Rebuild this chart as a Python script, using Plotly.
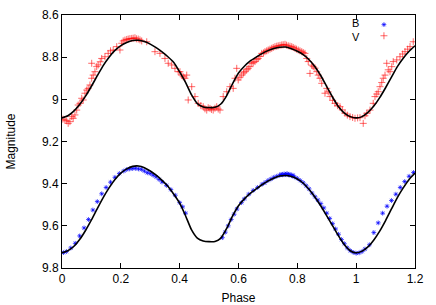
import plotly.graph_objects as go

# Model curve phases and magnitudes
model_phase = [round(0.02 * i, 2) for i in range(61)]
model_v = [9.088, 9.078, 9.056, 9.025, 8.985, 8.938, 8.888, 8.840, 8.800, 8.768,
           8.745, 8.730, 8.721, 8.720, 8.726, 8.738, 8.755, 8.775, 8.798, 8.825,
           8.870, 8.920, 8.978, 9.020, 9.036, 9.039, 9.038, 9.022, 8.982, 8.925,
           8.875, 8.843, 8.818, 8.800, 8.783, 8.769, 8.759, 8.753, 8.752, 8.760,
           8.772, 8.788, 8.812, 8.845, 8.888, 8.940, 8.990, 9.035, 9.065, 9.082,
           9.088, 9.082, 9.062, 9.032, 8.992, 8.945, 8.895, 8.845, 8.805, 8.772,
           8.746]
model_b = [9.728, 9.718, 9.698, 9.665, 9.622, 9.572, 9.518, 9.466, 9.420, 9.380,
           9.350, 9.330, 9.318, 9.316, 9.324, 9.340, 9.360, 9.384, 9.412, 9.450,
           9.492, 9.552, 9.618, 9.658, 9.672, 9.675, 9.674, 9.658, 9.612, 9.553,
           9.505, 9.472, 9.446, 9.425, 9.405, 9.388, 9.374, 9.364, 9.361, 9.366,
           9.378, 9.398, 9.428, 9.464, 9.506, 9.553, 9.600, 9.648, 9.690, 9.718,
           9.728, 9.720, 9.700, 9.667, 9.625, 9.575, 9.520, 9.466, 9.420, 9.380,
           9.350]

# B observations
b_phase = [0.005, 0.015, 0.03, 0.045, 0.06, 0.075, 0.09, 0.105, 0.12, 0.135,
           0.15, 0.165, 0.18, 0.195, 0.21, 0.22, 0.23, 0.24, 0.25, 0.26,
           0.27, 0.28, 0.29, 0.30, 0.31, 0.32, 0.33, 0.34, 0.355, 0.37,
           0.385, 0.40, 0.41, 0.42,
           0.545, 0.555, 0.565, 0.575, 0.585, 0.595, 0.61, 0.62, 0.635, 0.65,
           0.665, 0.68, 0.69, 0.70, 0.71, 0.72, 0.73, 0.74, 0.745, 0.75,
           0.755, 0.76, 0.765, 0.77, 0.775, 0.78, 0.785, 0.79, 0.80, 0.81,
           0.82, 0.83, 0.84, 0.85, 0.86, 0.87, 0.88, 0.89, 0.90, 0.91,
           0.92, 0.93, 0.94, 0.95, 0.96, 0.97, 0.98, 0.99, 1.00, 1.01,
           1.02, 1.03, 1.045, 1.06, 1.075, 1.09, 1.105, 1.12, 1.135, 1.15,
           1.165, 1.18, 1.195]
b_mag = [9.727, 9.722, 9.705, 9.683, 9.648, 9.610, 9.570, 9.525, 9.485, 9.448,
         9.418, 9.393, 9.370, 9.352, 9.340, 9.333, 9.330, 9.328, 9.327, 9.330,
         9.332, 9.340, 9.348, 9.352, 9.360, 9.368, 9.380, 9.392, 9.408, 9.428,
         9.455, 9.490, 9.510, 9.540,
         9.656, 9.630, 9.600, 9.570, 9.545, 9.520, 9.490, 9.472, 9.450, 9.432,
         9.418, 9.403, 9.395, 9.385, 9.378, 9.370, 9.365, 9.360, 9.356, 9.358,
         9.354, 9.357, 9.352, 9.358, 9.356, 9.362, 9.360, 9.368, 9.375, 9.385,
         9.396, 9.410, 9.425, 9.445, 9.462, 9.478, 9.495, 9.515, 9.540, 9.565,
         9.590, 9.615, 9.640, 9.665, 9.685, 9.705, 9.718, 9.726, 9.730, 9.728,
         9.722, 9.710, 9.690, 9.632, 9.586, 9.540, 9.507, 9.480, 9.450, 9.418,
         9.390, 9.365, 9.347]

# V observations
v_phase = [0.003, 0.010, 0.016, 0.021, 0.027, 0.033, 0.038, 0.044, 0.050, 0.055,
           0.061, 0.067, 0.072, 0.078, 0.084, 0.089, 0.095, 0.101, 0.101, 0.106,
           0.112, 0.118, 0.123, 0.130, 0.135, 0.146, 0.157, 0.165, 0.174, 0.186,
           0.197, 0.203, 0.208, 0.214, 0.220, 0.225, 0.231, 0.237, 0.242, 0.248,
           0.253, 0.259, 0.265, 0.271, 0.288, 0.316, 0.333, 0.350, 0.361, 0.373,
           0.384, 0.395, 0.401, 0.407, 0.412, 0.418, 0.424, 0.429, 0.441, 0.452,
           0.463, 0.472, 0.480, 0.486, 0.492, 0.497, 0.503, 0.508, 0.514, 0.520,
           0.526, 0.531, 0.537, 0.548, 0.560, 0.571, 0.582, 0.588, 0.594, 0.599,
           0.605, 0.611, 0.617, 0.622, 0.628, 0.633, 0.639, 0.645, 0.650, 0.656,
           0.662, 0.667, 0.673, 0.679, 0.685, 0.690, 0.696, 0.701, 0.707, 0.713,
           0.718, 0.724, 0.730, 0.735, 0.741, 0.747, 0.752, 0.758, 0.763, 0.769,
           0.775, 0.781, 0.786, 0.792, 0.797, 0.803, 0.809, 0.815, 0.820, 0.826,
           0.832, 0.837, 0.843, 0.849, 0.854, 0.860, 0.866, 0.871, 0.877, 0.883,
           0.894, 0.900, 0.905, 0.911, 0.920, 0.928, 0.937, 0.945, 0.953, 0.962,
           0.970, 0.979, 0.988, 0.996, 1.005, 1.013, 1.024, 1.030, 1.036, 1.047,
           1.058, 1.064, 1.070, 1.075, 1.081, 1.087, 1.092, 1.098, 1.104, 1.109,
           1.115, 1.121, 1.126, 1.138, 1.149, 1.158, 1.166, 1.175, 1.183, 1.194]
v_mag = [9.094, 9.098, 9.102, 9.114, 9.106, 9.082, 9.090, 9.074, 9.051, 9.027,
         9.019, 8.995, 9.003, 8.971, 8.956, 8.948, 8.932, 8.900, 8.829, 8.885,
         8.869, 8.845, 8.837, 8.822, 8.806, 8.798, 8.782, 8.770, 8.766, 8.750,
         8.766, 8.734, 8.723, 8.719, 8.716, 8.714, 8.712, 8.711, 8.710, 8.708,
         8.713, 8.714, 8.718, 8.723, 8.727, 8.774, 8.782, 8.806, 8.829, 8.837,
         8.853, 8.869, 8.869, 8.885, 8.893, 8.900, 8.885, 9.003, 8.940, 8.987,
         9.019, 9.030, 9.035, 9.045, 9.051, 9.040, 9.043, 9.048, 9.051, 9.042,
         9.035, 9.046, 9.051, 8.987, 8.964, 8.940, 8.948, 8.900, 8.853, 8.908,
         8.895, 8.885, 8.875, 8.869, 8.860, 8.853, 8.845, 8.829, 8.826, 8.821,
         8.812, 8.806, 8.797, 8.782, 8.780, 8.774, 8.770, 8.766, 8.762, 8.758,
         8.754, 8.750, 8.748, 8.746, 8.744, 8.742, 8.741, 8.739, 8.743, 8.746,
         8.748, 8.750, 8.754, 8.758, 8.762, 8.766, 8.770, 8.774, 8.778, 8.782,
         8.806, 8.821, 8.877, 8.838, 8.845, 8.852, 8.869, 8.885, 8.900, 8.924,
         8.971, 8.948, 8.965, 8.987, 9.005, 9.019, 9.030, 9.035, 9.050, 9.066,
         9.075, 9.082, 9.086, 9.090, 9.088, 9.087, 9.114, 9.078, 9.066, 9.051,
         9.019, 8.987, 8.975, 8.964, 8.940, 8.920, 8.900, 8.885, 8.829, 8.860,
         8.869, 8.845, 8.821, 8.813, 8.798, 8.785, 8.774, 8.762, 8.750, 8.727]

# Legend keys (names and their sample-marker spots in the key box, paper units)
key_names = ["B", "V"]
key_x = [0.912, 0.912]
key_y = [0.962, 0.918]

B_MARK = dict(symbol="asterisk-open", size=4, color="rgba(0,0,255,0.7)",
              line=dict(color="rgba(0,0,255,0.7)", width=1))
V_MARK = dict(symbol="cross-thin-open", size=5, color="rgba(255,0,0,0.6)",
              line=dict(color="rgba(255,0,0,0.6)", width=1))

fig = go.Figure()

fig.add_trace(go.Scatter(x=b_phase, y=b_mag, mode="markers", name="B",
                         marker=B_MARK, showlegend=False))
fig.add_trace(go.Scatter(x=v_phase, y=v_mag, mode="markers", name="V",
                         marker=V_MARK, showlegend=False))
fig.add_trace(go.Scatter(
    x=model_phase, y=model_v, mode="lines", showlegend=False,
    line=dict(color="black", width=1.6, shape="spline", smoothing=0.6),
))
fig.add_trace(go.Scatter(
    x=model_phase, y=model_b, mode="lines", showlegend=False,
    line=dict(color="black", width=1.6, shape="spline", smoothing=0.6),
))

# key sample markers on a hidden overlay axis spanning the plot area
fig.add_trace(go.Scatter(x=[key_x[0]], y=[key_y[0]], mode="markers",
                         marker=B_MARK, showlegend=False, xaxis="x2", yaxis="y2",
                         hoverinfo="skip"))
fig.add_trace(go.Scatter(x=[key_x[1]], y=[key_y[1]], mode="markers",
                         marker=V_MARK, showlegend=False, xaxis="x2", yaxis="y2",
                         hoverinfo="skip"))

font_family = "Liberation Sans, Arial, sans-serif"

fig.add_annotation(xref="paper", yref="paper", x=0.85, y=(key_y[0] + key_y[1]) / 2,
                   text="<br>".join(key_names), showarrow=False,
                   xanchor="right", yanchor="middle", align="right",
                   font=dict(family=font_family, size=11, color="black"))

fig.update_layout(
    width=436, height=305,
    margin=dict(l=62, r=21, t=15, b=37, autoexpand=False),
    paper_bgcolor="white", plot_bgcolor="white",
    font=dict(family=font_family, size=12, color="black"),
    showlegend=False,
    xaxis2=dict(overlaying="x", range=[0, 1], visible=False, domain=[0, 1]),
    yaxis2=dict(overlaying="y", range=[0, 1], visible=False, domain=[0, 1]),
    xaxis=dict(
        range=[0, 1.2], dtick=0.2, tick0=0, showgrid=False, zeroline=False,
        showline=True, linecolor="black", linewidth=1, mirror="ticks",
        ticks="inside", ticklen=5, tickcolor="black", automargin=False,
        title=dict(text="Phase", standoff=8, font=dict(size=12)),
    ),
    yaxis=dict(
        range=[9.8, 8.6], dtick=0.2, tick0=8.6, showgrid=False, zeroline=False,
        showline=True, linecolor="black", linewidth=1, mirror="ticks",
        ticks="inside", ticklen=5, tickcolor="black", automargin=False,
        title=dict(text="Magnitude", standoff=23, font=dict(size=12)),
    ),
)

fig.write_html("out.html", config={"displayModeBar": False},
               post_script="document.body.style.margin='0px';")
